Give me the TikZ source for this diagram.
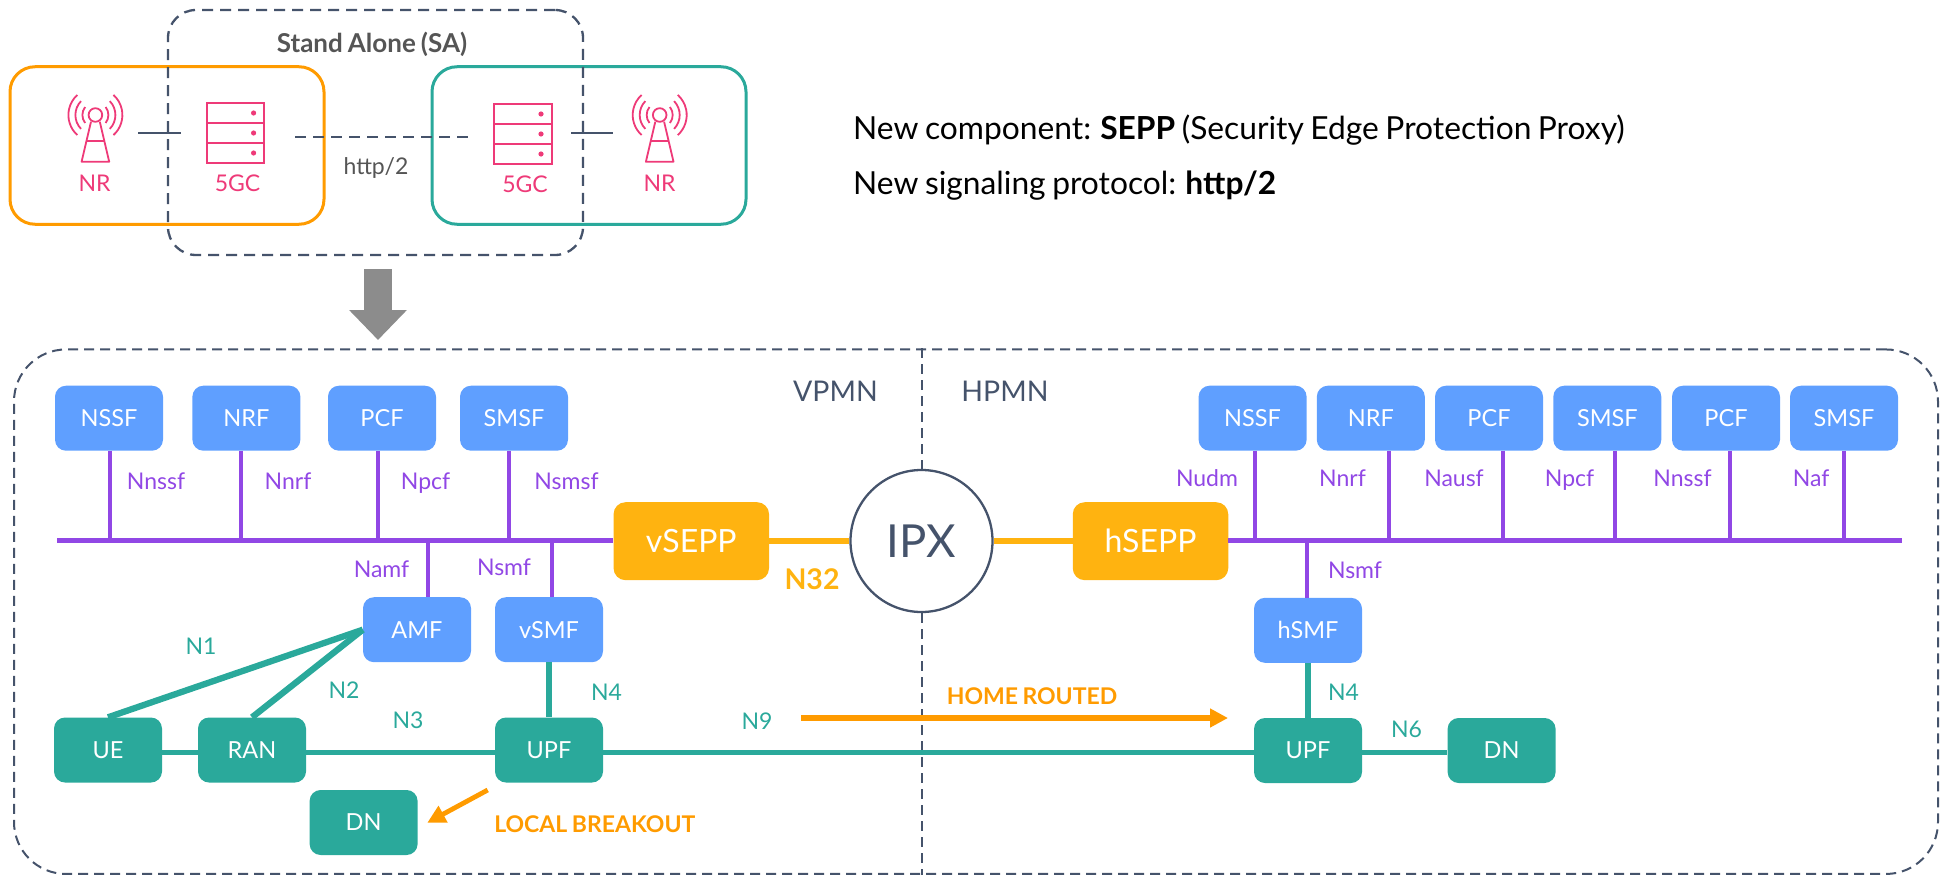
\documentclass[tikz,border=0pt]{standalone}
\usepackage{fontspec}
\setmainfont[WordSpace=0.8]{Lato}
\usetikzlibrary{arrows.meta}
\definecolor{cblue}{HTML}{5F9FFF}
\definecolor{cteal}{HTML}{2AA99B}
\definecolor{cpurple}{HTML}{9147E5}
\definecolor{csepp}{HTML}{FFB310}
\definecolor{corange}{HTML}{FF9B00}
\definecolor{cdark}{HTML}{45536B}
\definecolor{cpink}{HTML}{EE3A78}
\definecolor{cgrey}{HTML}{8C8C8C}
\definecolor{ctext}{HTML}{555555}
\newcommand{\fs}[1]{\fontsize{#1}{#1}\selectfont}
\tikzset{
  x=1pt,y=-1pt,
  nfbox/.style={rounded corners=11pt,minimum width=108pt,minimum height=65pt,inner sep=0pt,text=white,font=\fs{23.5},fill=#1},
  seppbox/.style={rounded corners=12pt,minimum width=155.5pt,minimum height=78pt,inner sep=0pt,text=white,font=\fs{32},fill=csepp},
  lbl/.style={text=#1,font=\fs{23},inner sep=0pt,anchor=base},
  clbl/.style={text=#1,font=\fs{23},inner sep=0pt,anchor=center},
  plink/.style={cpurple,line width=4pt},
  tlink/.style={cteal,line width=5.7pt},
  olink/.style={csepp,line width=6pt},
  dashbox/.style={draw=cdark,line width=2.3pt,dash pattern=on 11pt off 7pt,inner sep=0pt},
  iconline/.style={cpink,line width=1.8pt},
}
\newcommand{\nrtower}[1]{%
  \begin{scope}[shift={(#1,115)}]
    \draw[iconline] (0,0) circle[radius=6.8pt];
    \draw[iconline,line join=round] (-4.4,6.7) -- (-13.8,46.7) -- (13.8,46.7) -- (4.4,6.7);
    \draw[iconline] (-9.2,26) -- (9.2,26);
    \foreach \r/\a in {13/38,20/44,27/48}{
      \draw[iconline] ({\r*cos(\a)},{\r*sin(\a)}) arc[start angle=-\a,end angle=\a,radius=\r pt];
      \draw[iconline] ({-\r*cos(\a)},{\r*sin(\a)}) arc[start angle=180+\a,end angle=180-\a,radius=\r pt];
    }
  \end{scope}}
\newcommand{\serverstack}[2]{%
  \begin{scope}[shift={(#1,#2)}]
    \draw[iconline] (0,0) rectangle (57.7,60.3);
    \draw[iconline] (0,20) -- (57.7,20);
    \draw[iconline] (0,40) -- (57.7,40);
    \foreach \y in {10,30,50}{\fill[cpink] (47,\y) circle[radius=2.6pt];}
  \end{scope}}
\begin{document}
\begin{tikzpicture}
\useasboundingbox (0,0) rectangle (1941,875);
% top area boxes
\node[draw=corange,line width=3pt,rounded corners=25pt,minimum width=314pt,minimum height=157.5pt,inner sep=0pt] (opbox) at (167,145.5) {};
\node[draw=cteal,line width=3pt,rounded corners=25pt,minimum width=314pt,minimum height=157.5pt,inner sep=0pt] (tpbox) at (589,145.5) {};
\node[dashbox,rounded corners=28pt,minimum width=415pt,minimum height=245pt] (sabox) at (375.5,132.5) {};
\node[text=ctext,font=\fs{26}\bfseries,inner sep=0pt] (satxt) at (372,44) {Stand Alone (SA)};
\nrtower{95.4}
\nrtower{659.7}
\serverstack{206.6}{103}
\serverstack{494}{104}
\node[clbl=cpink] (nr1) at (94.5,183) {NR};
\node[clbl=cpink] (gc1) at (237.5,183) {5GC};
\node[clbl=cpink] (gc2) at (525,184) {5GC};
\node[clbl=cpink] (nr2) at (659.6,183) {NR};
\coordinate (la) at (138,132.7); \coordinate (lb) at (180.6,132.7);
\coordinate (ra) at (571,132.7); \coordinate (rb) at (613,132.7);
\coordinate (da) at (295,136.7); \coordinate (db) at (474.5,136.7);
\draw[cdark,line width=2pt] (la) -- (lb);
\draw[cdark,line width=2pt] (ra) -- (rb);
\draw[cdark,line width=2.3pt,dash pattern=on 11pt off 7pt] (da) -- (db);
\node[text=ctext,font=\fs{23},inner sep=0pt] (httptxt) at (376,168) {http/2};
% grey arrow
\coordinate (ga) at (378,269); \coordinate (gb) at (378,340);
\draw[cgrey,line width=28pt,-{Triangle[length=30pt,width=56pt]}] (ga) -- (gb);
% right text
\node[anchor=west,font=\fs{31.75},inner sep=0pt,text=black] (t1) at (853,130) {New component: \textbf{SEPP} (Security Edge Protection Proxy)};
\node[anchor=west,font=\fs{31.75},inner sep=0pt,text=black] (t2) at (853,186) {New signaling protocol: \textbf{http/2}};
% outer
\node[draw=cdark,line width=2pt,dash pattern=on 10pt off 6pt,inner sep=0pt,rounded corners=52pt,minimum width=1924pt,minimum height=524.5pt] (outer) at (976,611.7) {};
% IPX
\node[draw=cdark,line width=2.3pt,circle,minimum size=142pt,inner sep=0pt,text=cdark,font=\fs{45.5}] (ipx) at (921.5,541) {IPX};
\draw[cdark,line width=2pt,dash pattern=on 10pt off 6pt] (outer.north -| ipx) -- (ipx.north);
\draw[cdark,line width=2pt,dash pattern=on 10pt off 6pt] (ipx.south) -- (outer.south -| ipx);
\node[clbl=cdark,font=\fs{28.5}] (vpmn) at (835.5,391) {VPMN};
\node[clbl=cdark,font=\fs{28.5}] (hpmn) at (1005,391) {HPMN};
% blue boxes
\foreach \n/\t/\xx in {a/NSSF/109,b/NRF/246.4,c/PCF/382,d/SMSF/514,e/NSSF/1252.6,f/NRF/1370.8,g/PCF/1489,h/SMSF/1607.3,i/PCF/1726,j/SMSF/1844}{
  \node[nfbox=cblue] (\n) at (\xx,418.2) {\t};
}
\node[nfbox=cblue] (amf) at (417,629.7) {AMF};
\node[nfbox=cblue] (vsmf) at (549,629.7) {vSMF};
\node[nfbox=cblue] (hsmf) at (1308,630.3) {hSMF};
\node[nfbox=cteal] (ue) at (108,750) {UE};
\node[nfbox=cteal] (ran) at (252,750) {RAN};
\node[nfbox=cteal] (upf) at (549,750) {UPF};
\node[nfbox=cteal] (dn) at (363.6,822.5) {DN};
\node[nfbox=cteal] (upfh) at (1308,750.5) {UPF};
\node[nfbox=cteal] (dnh) at (1501.6,750.5) {DN};
\node[seppbox] (vsepp) at (691.3,541.2) {vSEPP};
\node[seppbox] (hsepp) at (1150.5,541.2) {hSEPP};
% buses
\coordinate (busl) at (57,540.7);
\coordinate (busr) at (1902,540.7);
\draw[cpurple,line width=5pt] (busl) -- (vsepp.west |- busl);
\draw[cpurple,line width=5pt] (hsepp.east |- busr) -- (busr);
\foreach \n/\xx in {a/110.3,b/241,c/377.5,d/509,e/1254.8,f/1388.6,g/1503,h/1614.6,i/1729.8,j/1844.3}{
  \coordinate (bus\n) at (\xx,540.7);
  \draw[plink] (\n.south -| bus\n) -- (bus\n);
}
\coordinate (busamf) at (427.6,540.7);
\coordinate (busvsmf) at (552,540.7);
\coordinate (bushsmf) at (1306.8,540.7);
\draw[plink] (busamf) -- (amf.north -| busamf);
\draw[plink] (busvsmf) -- (vsmf.north -| busvsmf);
\draw[plink] (bushsmf) -- (hsmf.north -| bushsmf);
\draw[olink] (vsepp.east |- ipx) -- (ipx.west);
\draw[olink] (ipx.east) -- (hsepp.west |- ipx);
% teal links
\coordinate (ty) at (0,752.6);
\draw[tlink,line width=6.3pt] (ue.north) -- (amf.west);
\draw[tlink,line width=6.3pt] (ran.north) -- (amf.west);
\draw[tlink] (ue.east |- ty) -- (ran.west |- ty);
\draw[tlink] (ran.east |- ty) -- (upf.west |- ty);
\draw[tlink] (upf.east |- ty) -- (upfh.west |- ty);
\draw[tlink] (upfh.east |- ty) -- (dnh.west |- ty);
\draw[tlink] (vsmf.south) -- (upf.north);
\draw[tlink] (hsmf.south) -- (upfh.north);
% orange arrows
\coordinate (ha) at (801,718); \coordinate (hb) at (1228,718);
\draw[corange,line width=5.2pt,-{Triangle[length=18pt,width=18pt]}] (ha) -- (hb);
\coordinate (lba) at (487.7,790); \coordinate (lbb) at (427.3,822.7);
\draw[corange,line width=4.8pt,-{Triangle[length=18pt,width=18pt]}] (lba) -- (lbb);
% labels (y = middle of the capitals; placed by baseline)
\foreach \t/\xx/\yy [count=\k] in {Nnssf/156/481,Nnrf/288/481,Npcf/425.5/481,Nsmsf/566.5/481,Namf/381.5/569,Nsmf/504/567,Nudm/1207/478,Nnrf/1342.5/478,Nausf/1454/478,Npcf/1569.5/478,Nnssf/1682.5/478,Naf/1811/478,Nsmf/1355/570}{
  \node[lbl=cpurple] (pl\k) at (\xx,\yy+8.3) {\t};
}
\foreach \t/\xx/\yy [count=\k] in {N1/201/646,N2/344/690,N3/408/720.5,N4/606.5/692.5,N9/757/721.5,N4/1343.5/692.5,N6/1406.5/729}{
  \node[lbl=cteal] (tl\k) at (\xx,\yy+8.3) {\t};
}
\node[clbl=csepp,font=\fs{28.5}\bfseries] (n32) at (812,579.5) {N32};
\node[clbl=corange,font=\fs{23}\bfseries] (homet) at (1032,696) {HOME ROUTED};
\node[clbl=corange,font=\fs{23}\bfseries] (loct) at (594.8,824) {LOCAL BREAKOUT};
\end{tikzpicture}
\end{document}
